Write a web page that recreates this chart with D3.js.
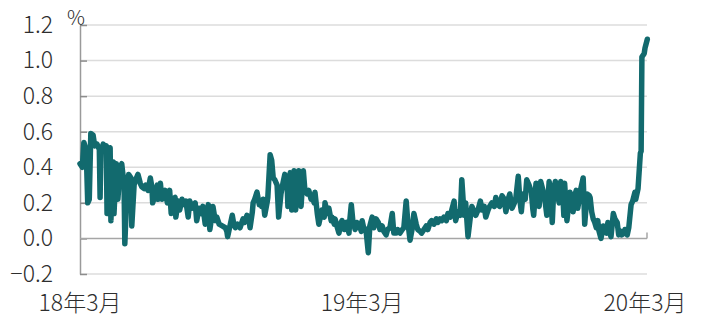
<!DOCTYPE html>
<html>
<head>
<meta charset="utf-8">
<script src="https://cdn.jsdelivr.net/npm/d3@7"></script>
<style>
body { margin: 0; background: #fff; }
text { font-family: "Noto Sans CJK JP", "Noto Sans", sans-serif; font-weight: 300; fill: #2e2e2e; }
</style>
</head>
<body>
<svg width="704" height="318"></svg>
<script>
// Series start date, x values are days counted from it
var startDate = new Date(2018, 2, 1);

var days = [
  0,3,5,8,10,12,14,17,19,22, 25,26,27,30,32,34,35,36,39,40,
  43,44,47,49,52,54,57,58,61,63, 66,67,70,72,75,78,80,83,85,88,
  91,93,94,97,100,101,104,106,110,113, 116,118,120,123,124,
  127,129,132,135,137,140,142,145,149,151, 154,157,159,162,164,166,168,171,172,175,
  177,180,184,188,190,191,194,197,199,201, 204,207,211,213,216,219,220,223,224,226,
  229,232,233,235,237,239,242,243,246,248, 250,
  252,255,257,260,263,265,268,269,272,274, 277,279,282,283,286,289,291,294,296,299,
  300,303,304,307,309,312,313,316,317,320, 322,325,326,329,330,333,335,338,339,342,
  343,345,348,349,351,353,356,358,361,364, 365,367,370,373,375,
  378,380,383,386,388,391,393,396,398,401, 404,406,409,411,414,417,419,422,424,427,
  430,432,435,437,440,442,445,448,450,453, 455,458,461,463,466,468,471,474,476,479,
  481,484,486,489,492,494,497,499,502,
  505,507,510,512,515,518,520,523,525,528, 530,533,536,538,541,543,546,549,551,554,
  556,559,562,564,567,569,571,573,576,578, 581,584,586,587,590,593,594,596,599,602,
  604,607,609,611,613,615,617,620,622,625, 626,
  627,630,633,634,637,638,640,642,644,647, 648,651,652,653,656,659,660,662,664,666,
  668,670,671,674,677,678,681,683,684,687, 690,692,695,697,700,701,704,705,708,710,
  713,715,718,719,722,725,726,727,730,731, 734
];

var values = [
  0.42,0.40,0.54,0.50,0.20,0.22,0.59,0.58,0.52,0.53, 0.50,0.23,0.48,0.53,0.51,0.52,0.14,0.45,0.51,0.10,
  0.43,0.14,0.42,0.22,0.40,0.42,0.30,-0.03,0.30,0.36, 0.34,0.07,0.30,0.33,0.36,0.31,0.29,0.28,0.30,0.27,
  0.34,0.29,0.20,0.24,0.30,0.22,0.31,0.22,0.27,0.20, 0.27,0.14,0.22,0.23,0.12,
  0.21,0.16,0.22,0.19,0.21,0.12,0.21,0.17,0.20,0.10, 0.17,0.14,0.18,0.08,0.12,0.19,0.05,0.14,0.18,0.10,
  0.12,0.08,0.07,0.06,0.04,0.01,0.07,0.13,0.08,0.06, 0.08,0.06,0.11,0.09,0.13,0.10,0.06,0.15,0.20,0.22,
  0.26,0.19,0.21,0.18,0.22,0.13,0.20,0.23,0.47,0.44, 0.34,
  0.33,0.30,0.12,0.25,0.32,0.36,0.30,0.18,0.37,0.16, 0.38,0.16,0.35,0.38,0.18,0.38,0.27,0.25,0.27,0.22,
  0.24,0.20,0.26,0.14,0.08,0.14,0.16,0.12,0.20,0.14, 0.17,0.10,0.12,0.08,0.11,0.06,0.03,0.09,0.10,0.05,
  0.06,0.09,0.03,0.10,0.19,0.10,0.05,0.09,0.08,0.04, 0.10,0.06,0.05,-0.08,0.07,
  0.12,0.06,0.11,0.09,0.05,0.07,0.04,0.02,0.05,0.06, 0.14,0.03,0.03,0.05,0.03,0.05,0.06,0.21,0.10,-0.01,
  0.06,0.14,0.08,0.05,0.04,0.03,0.05,0.07,0.05,0.09, 0.10,0.08,0.11,0.09,0.11,0.10,0.12,0.10,0.14,0.12,
  0.16,0.21,0.10,0.15,0.13,0.33,0.13,0.20,0.01,
  0.12,0.18,0.15,0.13,0.16,0.21,0.16,0.18,0.12,0.16, 0.18,0.20,0.18,0.23,0.19,0.18,0.24,0.22,0.15,0.22,
  0.25,0.17,0.20,0.23,0.35,0.22,0.15,0.25,0.22,0.33, 0.30,0.26,0.16,0.13,0.31,0.25,0.18,0.32,0.27,0.20,
  0.13,0.32,0.25,0.09,0.28,0.32,0.26,0.20,0.32,0.22, 0.13,
  0.31,0.10,0.22,0.26,0.18,0.15,0.24,0.27,0.17,0.25, 0.28,0.34,0.22,0.08,0.25,0.24,0.23,0.15,0.11,0.09,
  0.06,0.10,0.05,0.00,0.07,0.04,0.03,0.09,0.05,0.01, 0.14,0.11,0.09,0.02,0.04,0.02,0.03,0.05,0.02,0.06,
  0.19,0.21,0.26,0.22,0.28,0.48,0.49,1.02,1.04,1.07, 1.12
];

if (days.length !== values.length) console.error("days/values length mismatch", days.length, values.length);

var yTicks = [-0.2, 0, 0.2, 0.4, 0.6, 0.8, 1.0, 1.2];
var xTickDates = [new Date(2018, 2, 1), new Date(2019, 2, 1), new Date(2020, 2, 1)];
var xTickLabels = ["18年3月", "19年3月", "20年3月"];

// layout (note: "top" is a reserved window global, so plot* names)
var plotLeft = 80, plotRight = 647, plotTop = 25, plotBottom = 274;
var lineColor = "#126a6e";

var svg = d3.select("svg");

var x = d3.scaleTime()
    .domain([xTickDates[0], xTickDates[2]])
    .range([plotLeft, 645]);

var y = d3.scaleLinear()
    .domain([-0.2, 1.2])
    .range([plotBottom, plotTop]);

var data = days.map(function(d, i) {
    return { date: d3.timeDay.offset(startDate, d), value: values[i] };
});

// gridlines
svg.append("g")
    .selectAll("line")
    .data(yTicks.filter(function(d) { return d !== 0; }))
    .enter().append("line")
    .attr("x1", plotLeft)
    .attr("x2", plotRight)
    .attr("y1", function(d) { return y(d); })
    .attr("y2", function(d) { return y(d); })
    .attr("stroke", "#dcdcdc")
    .attr("stroke-width", 1.5);

// y axis with inward ticks
var yAxis = svg.append("g")
    .attr("transform", "translate(" + plotLeft + ",0)")
    .call(d3.axisLeft(y)
        .tickValues(yTicks)
        .tickSizeInner(-7)
        .tickSizeOuter(0)
        .tickPadding(27)
        .tickFormat(d3.format(".1f")));

yAxis.select(".domain").attr("stroke", "#9a9a9a").attr("stroke-width", 1.5);
yAxis.selectAll(".tick line").attr("stroke", "#8c8c8c").attr("stroke-width", 1.5);
yAxis.selectAll(".tick text")
    .style("font-family", "'Noto Sans CJK JP', 'Noto Sans', sans-serif")
    .style("font-size", "23px")
    .style("font-weight", 300)
    .attr("fill", "#2e2e2e");

// zero line
svg.append("line")
    .attr("x1", plotLeft)
    .attr("x2", plotRight)
    .attr("y1", y(0))
    .attr("y2", y(0))
    .attr("stroke", "#a6a6a6")
    .attr("stroke-width", 1.5);

svg.append("line")
    .attr("x1", plotRight)
    .attr("x2", plotRight)
    .attr("y1", y(0))
    .attr("y2", y(0) - 6)
    .attr("stroke", "#a6a6a6")
    .attr("stroke-width", 1.5);

// x labels
svg.append("g")
    .selectAll("text")
    .data(xTickDates)
    .enter().append("text")
    .attr("x", function(d) { return x(d); })
    .attr("y", 311)
    .attr("text-anchor", "middle")
    .style("font-size", "23px")
    .text(function(d, i) { return xTickLabels[i]; });

// unit
svg.append("text")
    .attr("x", 67)
    .attr("y", 25)
    .style("font-size", "20px")
    .text("%");

// the series
var line = d3.line()
    .x(function(d) { return x(d.date); })
    .y(function(d) { return y(d.value); });

svg.append("path")
    .datum(data)
    .attr("fill", "none")
    .attr("stroke", lineColor)
    .attr("stroke-width", 5.5)
    .attr("stroke-linejoin", "round")
    .attr("stroke-linecap", "round")
    .attr("d", line);
</script>
</body>
</html>
